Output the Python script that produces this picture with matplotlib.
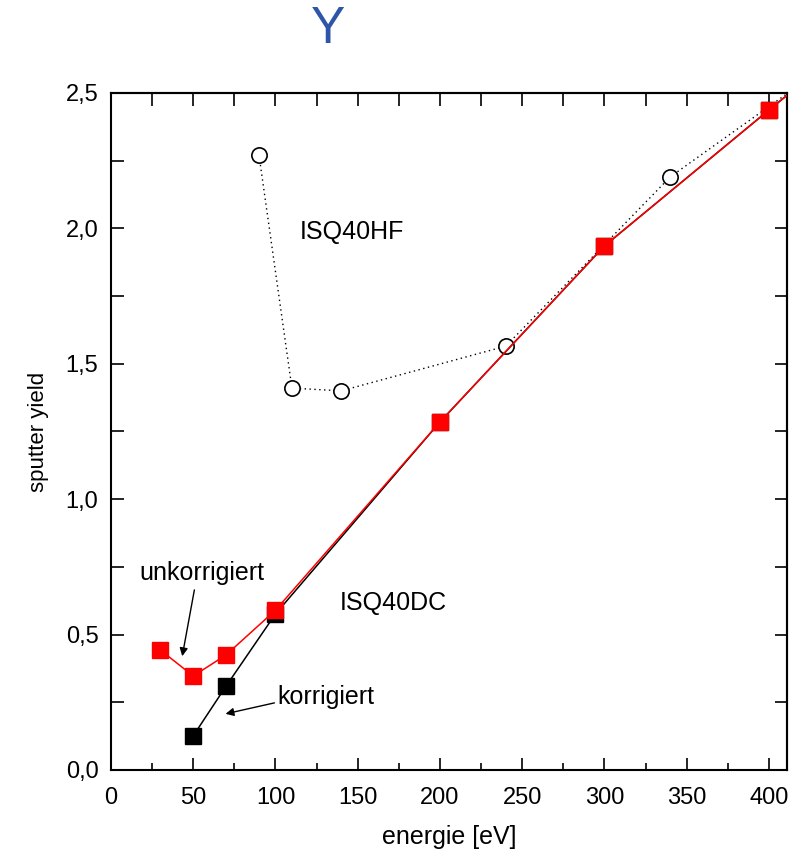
import numpy as np
import matplotlib.pyplot as plt
from matplotlib.ticker import MultipleLocator, FuncFormatter, NullFormatter

plt.rcParams['font.family'] = ['Liberation Sans', 'DejaVu Sans']

# ISQ40DC, unkorrigiert (rot)
e_dc = [30, 50, 70, 100, 200, 300, 400, 500]
y_dc = [0.443, 0.347, 0.425, 0.59, 1.285, 1.935, 2.437, 2.93]
# ISQ40DC, korrigiert (schwarz)
e_korr = [50, 70, 100, 200, 300, 400, 500]
y_korr = [0.126, 0.31, 0.576, 1.285, 1.935, 2.437, 2.93]
# ISQ40HF
e_hf = [90, 110, 140, 240, 340, 400, 500]
y_hf = [2.27, 1.41, 1.40, 1.565, 2.19, 2.45, 2.88]

fig = plt.figure(figsize=(8.02, 8.56), dpi=100)
ax = fig.add_axes([0.1384, 0.1005, 0.8429, 0.7909])

ax.plot(e_hf[:5], y_hf[:5], 'o', color='black', mfc='white', ms=11, mew=1.2, zorder=3)
ax.plot(e_hf, y_hf, color='black', lw=1, linestyle=(0, (1, 2.5)), zorder=2)
ax.plot(e_korr, y_korr, color='black', lw=1.1, marker='s', ms=11, zorder=4)
ax.plot(e_dc, y_dc, color='red', lw=1.1, marker='s', ms=11, zorder=5)

ax.set_xlim(0, 411)
ax.set_ylim(0, 2.5)
ax.xaxis.set_major_locator(MultipleLocator(50))
ax.xaxis.set_minor_locator(MultipleLocator(25))
ax.yaxis.set_major_locator(MultipleLocator(0.5))
ax.yaxis.set_minor_locator(MultipleLocator(0.25))
ax.yaxis.set_major_formatter(FuncFormatter(lambda v, p: f'{v:.1f}'.replace('.', ',')))
ax.tick_params(which='both', direction='in', width=1.2, labelsize=17)
ax.tick_params(which='major', length=9)
ax.tick_params(axis='x', which='minor', length=5)
ax.tick_params(axis='y', which='minor', length=9)
ax.tick_params(axis='x', pad=12)
ax.tick_params(axis='y', pad=9)

# obere und rechte Achse: alle Striche gleich lang
top = ax.secondary_xaxis('top')
top.xaxis.set_major_locator(MultipleLocator(25))
top.xaxis.set_major_formatter(NullFormatter())
top.tick_params(direction='in', length=9, width=1.2)
right = ax.secondary_yaxis('right')
right.yaxis.set_major_locator(MultipleLocator(0.25))
right.yaxis.set_major_formatter(NullFormatter())
right.tick_params(direction='in', length=9, width=1.2)

for a in (ax, top, right):
    for s in a.spines.values():
        s.set_linewidth(1.5)

ax.set_xlabel('energie [eV]', fontsize=18, labelpad=12)
ax.set_ylabel('sputter yield', fontsize=16, labelpad=12)

ax.text(115, 1.987, 'ISQ40HF', fontsize=18, va='center')
ax.text(139, 0.617, 'ISQ40DC', fontsize=18, va='center')
ax.text(17.5, 0.727, 'unkorrigiert', fontsize=18, va='center')
ax.text(101, 0.27, 'korrigiert', fontsize=18, va='center')
ax.annotate('', xy=(43, 0.41), xytext=(51, 0.675),
            arrowprops=dict(arrowstyle='-|>', color='black', lw=1, mutation_scale=12))
ax.annotate('', xy=(68, 0.205), xytext=(101, 0.25),
            arrowprops=dict(arrowstyle='-|>', color='black', lw=1, mutation_scale=12))

fig.text(0.409, 0.965, 'Y', fontsize=37, color='#2f55a8', ha='center', va='center')

fig.savefig('out.png', dpi=100)
